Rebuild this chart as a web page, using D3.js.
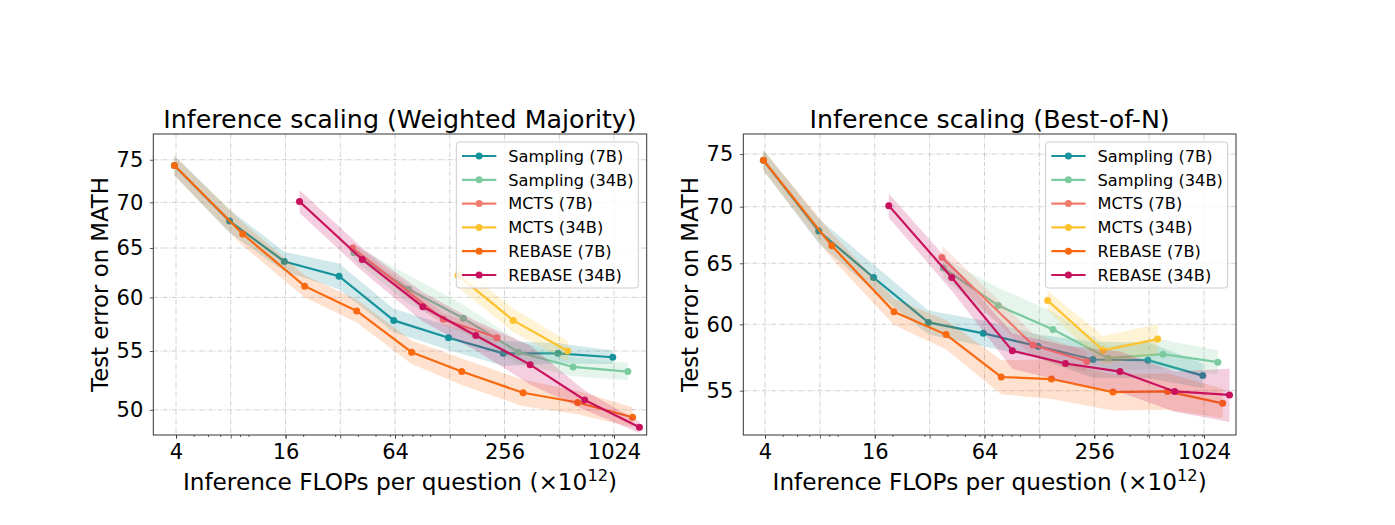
<!DOCTYPE html>
<html>
<head>
<meta charset="utf-8">
<script src="https://cdn.jsdelivr.net/npm/d3@7"></script>
<style>
  html, body { margin: 0; padding: 0; background: #fff; }
  svg { display: block; font-family: "DejaVu Sans", sans-serif; }
</style>
</head>
<body>
<svg id="chart" width="1395" height="525"></svg>
<script>
// series labels + colours (legend order = draw order)
const seriesLabels = ['Sampling (7B)', 'Sampling (34B)', 'MCTS (7B)', 'MCTS (34B)', 'REBASE (7B)', 'REBASE (34B)'];
const seriesColors = ['#17939b', '#7ccba0', '#f27b6d', '#fdc22e', '#f96a10', '#c9115d'];

// inference FLOPs per question (x1e12), shared by both panels
const flopsSampling7b = [3.92, 7.88, 15.75, 31.5, 63, 126, 252, 504, 1008];
const flopsSampling34b = [38, 76, 152, 305, 610, 1220];
const flopsMcts7b = [37.4, 118, 233];
const flopsMcts34b = [142, 286, 570];
const flopsRebase7b = [3.92, 9.3, 20.4, 39.4, 79, 149, 324, 646, 1296];
const flopsRebase34b = [19.1, 42.3, 91, 178, 354, 706, 1413];

// weighted majority: test error + half-width of shaded band
const wmSampling7b = [74.3, 67.9, 63.6, 62.1, 57.8, 56.2, 54.8, 54.8, 54.45];
const wmSampling7bSpread = [1.2, 1.3, 1.0, 1.3, 1.1, 1.1, 1.1, 0.9, 0.6];
const wmSampling34b = [64.5, 60.8, 58.0, 54.9, 53.6, 53.2];
const wmSampling34bSpread = [0.8, 1.4, 1.3, 1.0, 0.8, 0.75];
const wmMcts7b = [65.0, 57.9, 56.2];
const wmMcts7bSpread = [0.6, 0.6, 0.5];
const wmMcts34b = [62.2, 57.8, 55.0];
const wmMcts34bSpread = [1.2, 1.1, 0.9];
const wmRebase7b = [74.3, 66.5, 61.1, 58.7, 54.9, 53.2, 51.4, 50.6, 49.4];
const wmRebase7bSpread = [1.2, 1.25, 1.1, 1.1, 1.05, 1.15, 1.1, 0.95, 0.8];
const wmRebase34b = [70.1, 63.8, 59.1, 56.4, 53.8, 50.8, 48.6];
const wmRebase34bSpread = [1.3, 1.2, 1.4, 1.35, 1.7, 0.8, 0.45];

// best-of-N
const bonSampling7b = [74.4, 67.8, 63.8, 60.15, 59.3, 58.3, 57.3, 57.25, 56.1];
const bonSampling7bSpread = [1.0, 1.1, 1.1, 0.95, 1.0, 0.9, 1.35, 1.35, 0.9];
const bonSampling34b = [64.6, 61.5, 59.6, 57.4, 57.7, 57.1];
const bonSampling34bSpread = [0.85, 1.45, 1.4, 0.9, 1.1, 0.9];
const bonMcts7b = [65.5, 58.4, 57.15];
const bonMcts7bSpread = [1.0, 0.9, 0.75];
const bonMcts34b = [61.9, 58.0, 58.85];
const bonMcts34bSpread = [0.8, 1.1, 1.15];
const bonRebase7b = [74.4, 66.5, 61.0, 59.2, 56.0, 55.85, 54.9, 54.95, 54.1];
const bonRebase7bSpread = [1.0, 1.1, 1.05, 1.15, 1.25, 1.45, 1.3, 1.3, 1.05];
const bonRebase34b = [70.1, 63.8, 57.95, 57.0, 56.4, 54.95, 54.7];
const bonRebase34bSpread = [1.1, 1.1, 1.35, 1.35, 1.5, 1.45, 1.9];

// axis ticks
const xTickLabels = [4, 16, 64, 256, 1024];
const xPow2Ticks = [4, 8, 16, 32, 64, 128, 256, 512, 1024];
const xMinorTicks = [5, 6, 7, 9, 10, 20, 30, 40, 50, 60, 70, 80, 90, 100, 200, 300, 400, 500, 600, 700, 800, 900, 1000];
const yTicksWm = [50, 55, 60, 65, 70, 75];
const yTicksBon = [55, 60, 65, 70, 75];

const flops = [flopsSampling7b, flopsSampling34b, flopsMcts7b, flopsMcts34b, flopsRebase7b, flopsRebase34b];

const panels = [
  {
    title: 'Inference scaling (Weighted Majority)',
    left: 153.3, right: 646.7,
    xDomain: [3.0, 1549], yDomain: [48.0, 78.2], yTicks: yTicksWm,
    values: [wmSampling7b, wmSampling34b, wmMcts7b, wmMcts34b, wmRebase7b, wmRebase34b],
    spreads: [wmSampling7bSpread, wmSampling34bSpread, wmMcts7bSpread, wmMcts34bSpread, wmRebase7bSpread, wmRebase34bSpread],
    yLabelX: 108
  },
  {
    title: 'Inference scaling (Best-of-N)',
    left: 743.3, right: 1236,
    xDomain: [3.04, 1534], yDomain: [51.9, 77.0], yTicks: yTicksBon,
    values: [bonSampling7b, bonSampling34b, bonMcts7b, bonMcts34b, bonRebase7b, bonRebase34b],
    spreads: [bonSampling7bSpread, bonSampling34bSpread, bonMcts7bSpread, bonMcts34bSpread, bonRebase7bSpread, bonRebase34bSpread],
    yLabelX: 698
  }
];

const TOP = 134, BOTTOM = 435;
const svg = d3.select('#chart');

function drawPanel(p, idx) {
  const x = d3.scaleLog().base(2).domain(p.xDomain).range([p.left, p.right]);
  const y = d3.scaleLog().domain(p.yDomain).range([BOTTOM, TOP]);
  const g = svg.append('g').attr('class', 'panel-' + idx);

  const clipId = 'clip' + idx;
  g.append('clipPath').attr('id', clipId).append('rect')
    .attr('x', p.left).attr('y', TOP).attr('width', p.right - p.left).attr('height', BOTTOM - TOP);

  // grid (dash-dot, light grey)
  const grid = g.append('g').attr('stroke', '#c4c4c4').attr('stroke-width', 0.8)
    .attr('stroke-dasharray', '5,1.6,1,1.6');
  grid.selectAll('.vg').data(xPow2Ticks).enter().append('line')
    .attr('x1', d => x(d)).attr('x2', d => x(d)).attr('y1', TOP).attr('y2', BOTTOM);
  grid.selectAll('.hg').data(p.yTicks).enter().append('line')
    .attr('y1', d => y(d)).attr('y2', d => y(d)).attr('x1', p.left).attr('x2', p.right);

  // bands + lines
  const plot = g.append('g').attr('clip-path', `url(#${clipId})`);
  p.values.forEach((vals, s) => {
    const pts = vals.map((v, i) => ({ x: flops[s][i], y: v, e: p.spreads[s][i] }));
    const area = d3.area().x(d => x(d.x)).y0(d => y(d.y - d.e)).y1(d => y(d.y + d.e));
    const line = d3.line().x(d => x(d.x)).y(d => y(d.y));
    plot.append('path').datum(pts).attr('d', area)
      .attr('fill', seriesColors[s]).attr('fill-opacity', 0.2);
    plot.append('path').datum(pts).attr('d', line)
      .attr('fill', 'none').attr('stroke', seriesColors[s]).attr('stroke-width', 2.2);
    plot.selectAll(null).data(pts).enter().append('circle')
      .attr('cx', d => x(d.x)).attr('cy', d => y(d.y)).attr('r', 3.5)
      .attr('fill', seriesColors[s]);
  });

  // axes
  g.append('g').attr('transform', `translate(0,${BOTTOM})`)
    .call(d3.axisBottom(x).tickValues(xTickLabels).tickFormat(d3.format('d')).tickSize(3.5).tickPadding(6));
  g.append('g').attr('transform', `translate(0,${BOTTOM})`)
    .call(d3.axisBottom(x).tickValues(xPow2Ticks).tickFormat('').tickSize(3.5));
  g.append('g').attr('transform', `translate(0,${BOTTOM})`)
    .call(d3.axisBottom(x).tickValues(xMinorTicks).tickFormat('').tickSize(2));
  g.append('g').attr('transform', `translate(${p.left},0)`)
    .call(d3.axisLeft(y).tickValues(p.yTicks).tickFormat(d3.format('d')).tickSize(3.5).tickPadding(6.5));
  g.selectAll('.domain').remove();
  g.selectAll('.tick line').attr('stroke', '#333').attr('stroke-width', 0.8);
  g.selectAll('.tick text').attr('font-size', 21).attr('fill', '#000')
    .attr('font-family', '"DejaVu Sans", sans-serif');

  // spines
  g.append('rect').attr('x', p.left).attr('y', TOP)
    .attr('width', p.right - p.left).attr('height', BOTTOM - TOP)
    .attr('fill', 'none').attr('stroke', '#333').attr('stroke-width', 1);

  const cx = (p.left + p.right) / 2;
  g.append('text').attr('x', cx).attr('y', 128).attr('text-anchor', 'middle')
    .attr('font-size', 25.3).text(p.title);

  const xl = g.append('text').attr('x', cx).attr('y', 490).attr('text-anchor', 'middle')
    .attr('font-size', 23.2);
  xl.append('tspan').text('Inference FLOPs per question (\u00d710');
  xl.append('tspan').attr('font-size', '0.7em').attr('dy', '-0.55em').text('12');
  xl.append('tspan').attr('dy', '0.385em').text(')');

  g.append('text').attr('transform', `translate(${p.yLabelX},${(TOP + BOTTOM) / 2}) rotate(-90)`)
    .attr('text-anchor', 'middle').attr('font-size', 22.8).text('Test error on MATH');

  // legend
  const lw = 182, lh = 146;
  const lx = p.right - 8.4 - lw, ly = TOP + 8;
  const lg = g.append('g');
  lg.append('rect').attr('x', lx).attr('y', ly).attr('width', lw).attr('height', lh)
    .attr('rx', 3).attr('fill', '#fff').attr('fill-opacity', 0.8)
    .attr('stroke', '#cccccc').attr('stroke-width', 1);
  seriesLabels.forEach((name, s) => {
    const ry = ly + 14 + s * 23.8;
    lg.append('line').attr('x1', lx + 5.7).attr('x2', lx + 40).attr('y1', ry).attr('y2', ry)
      .attr('stroke', seriesColors[s]).attr('stroke-width', 2.2);
    lg.append('circle').attr('cx', lx + 22.8).attr('cy', ry).attr('r', 3.5).attr('fill', seriesColors[s]);
    lg.append('text').attr('x', lx + 52).attr('y', ry).attr('dy', '0.36em')
      .attr('font-size', 16.2).text(name);
  });
}

panels.forEach(drawPanel);
</script>
</body>
</html>
